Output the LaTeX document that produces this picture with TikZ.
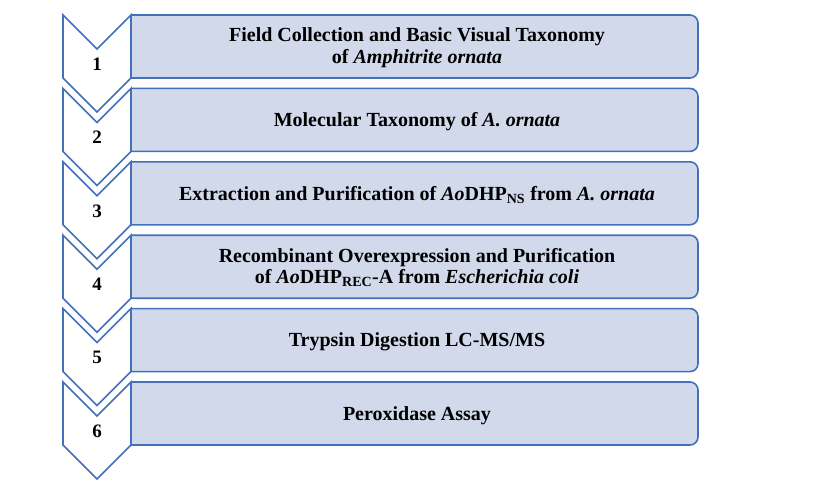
\documentclass[tikz,border=0pt]{standalone}
\usepackage{fontspec}
\setmainfont{Liberation Serif}
\definecolor{traitbleu}{RGB}{65,113,187}
\definecolor{fondbleu}{RGB}{209,217,235}

\begin{document}
\begin{tikzpicture}[x=1pt,y=-1pt]
\tikzset{fleche/.style={draw=traitbleu, fill=white, line width=1.6pt, line join=miter},
  boite/.style={draw=traitbleu, fill=fondbleu, line width=1.6pt, rounded corners=8pt},
  titre/.style={font=\bfseries\fontsize{20}{21.5}\selectfont, align=center},
  numero/.style={font=\bfseries\fontsize{19}{21.5}\selectfont}}
\useasboundingbox (0,0) rectangle (825,485);
% step 1
\path[boite] (131,15) -- (698,15) -- (698,78) -- (131,78);
\draw[fleche] (63,15) -- (97,49) -- (131,15) -- (131,78) -- (97,112) -- (63,78) -- cycle;
\node[numero] (N1) at (97,64) {1};
\node[titre] (T1) at (417,47.5) {Field Collection and Basic Visual Taxonomy\\of \textit{Amphitrite ornata}};
% step 2
\path[boite] (131,88.4) -- (698,88.4) -- (698,151.4) -- (131,151.4);
\draw[fleche] (63,88.4) -- (97,122.4) -- (131,88.4) -- (131,151.4) -- (97,185.4) -- (63,151.4) -- cycle;
\node[numero] (N2) at (97,137.4) {2};
\node[titre] (T2) at (417,122) {Molecular Taxonomy of \textit{A. ornata}};
% step 3
\path[boite] (131,161.8) -- (698,161.8) -- (698,224.8) -- (131,224.8);
\draw[fleche] (63,161.8) -- (97,195.8) -- (131,161.8) -- (131,224.8) -- (97,258.8) -- (63,224.8) -- cycle;
\node[numero] (N3) at (97,210.8) {3};
\node[titre] (T3) at (417,195.4) {Extraction and Purification of \textit{Ao}DHP\textsubscript{NS} from \textit{A. ornata}};
% step 4
\path[boite] (131,235.2) -- (698,235.2) -- (698,298.2) -- (131,298.2);
\draw[fleche] (63,235.2) -- (97,269.2) -- (131,235.2) -- (131,298.2) -- (97,332.2) -- (63,298.2) -- cycle;
\node[numero] (N4) at (97,284.2) {4};
\node[titre] (T4) at (417,267.7) {Recombinant Overexpression and Purification\\of \textit{Ao}DHP\textsubscript{REC}-A from \textit{Escherichia coli}};
% step 5
\path[boite] (131,308.6) -- (698,308.6) -- (698,371.6) -- (131,371.6);
\draw[fleche] (63,308.6) -- (97,342.6) -- (131,308.6) -- (131,371.6) -- (97,405.6) -- (63,371.6) -- cycle;
\node[numero] (N5) at (97,357.6) {5};
\node[titre] (T5) at (417,342.2) {Trypsin Digestion LC-MS/MS};
% step 6
\path[boite] (131,382) -- (698,382) -- (698,445) -- (131,445);
\draw[fleche] (63,382) -- (97,416) -- (131,382) -- (131,445) -- (97,479) -- (63,445) -- cycle;
\node[numero] (N6) at (97,431) {6};
\node[titre] (T6) at (417,415.6) {Peroxidase Assay};
\end{tikzpicture}
\end{document}
